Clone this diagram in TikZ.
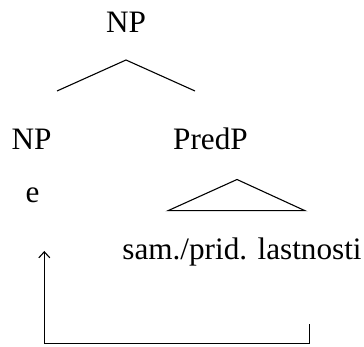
\documentclass[tikz,border=0pt]{standalone}
\usepackage{fontspec}
\setmainfont{Liberation Serif}
\usetikzlibrary{arrows.meta}
\begin{document}
\begin{tikzpicture}[x=0.5pt,y=-0.5pt,
  lbl/.style={anchor=base,inner sep=0pt,font=\fontsize{15.6}{18}\selectfont},
  branch/.style={line width=0.55pt},
  mv/.style={line width=0.55pt}]
\useasboundingbox (0,0) rectangle (364,347);
\node[lbl] (np) at (126,33) {NP};
\node[lbl] (npl) at (31.5,150) {NP};
\node[lbl] (predp) at (210.5,150) {PredP};
\node[lbl] (e) at (32.5,203) {e};
\node[lbl] (sam) at (242,260) {sam./prid. lastnosti};
\coordinate (apex) at (126,60);
\coordinate (bl) at (57,91);
\coordinate (br) at (195,91);
\coordinate (ta) at (237,179.5);
\coordinate (tl) at (168,210.7);
\coordinate (tr) at (305,210.7);
\coordinate (s) at (309.3,324.3);
\coordinate (t) at (44.3,251);
\draw[branch] (bl) -- (apex) -- (br);
\draw[branch] (ta) -- (tl) -- (tr) -- cycle;
\draw[mv,-{Straight Barb[length=3pt,width=5.5pt]}] (s) -- ++(0,19.5) -| (t);
\end{tikzpicture}
\end{document}
